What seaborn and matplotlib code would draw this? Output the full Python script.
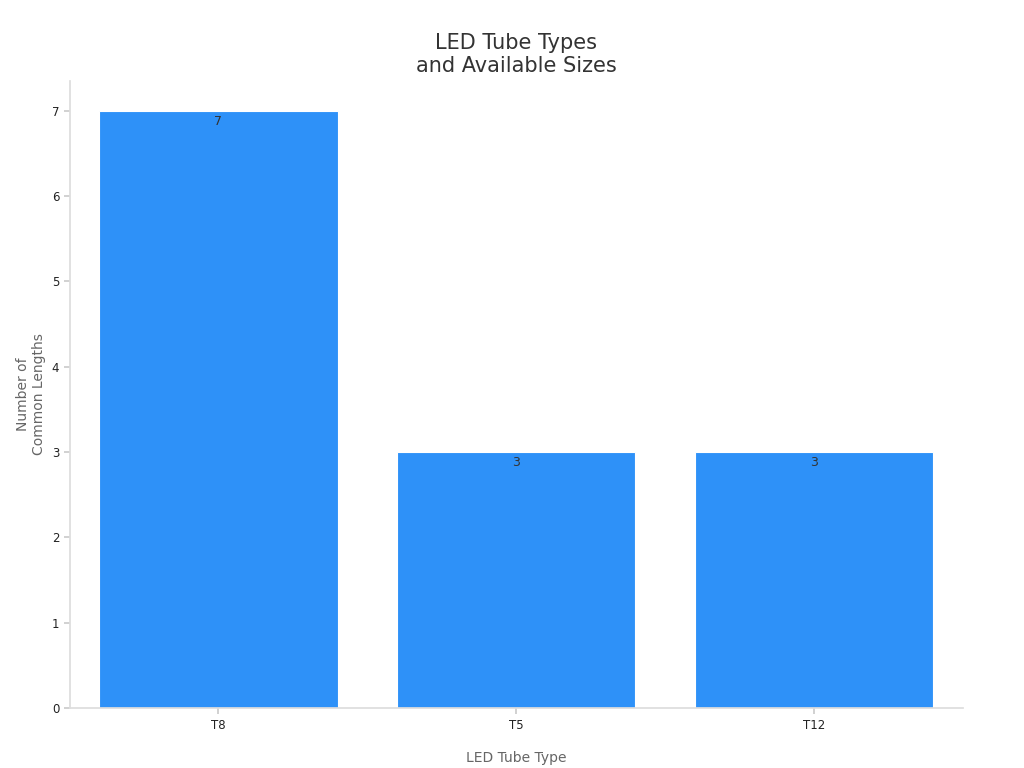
import matplotlib
matplotlib.use("Agg")
import matplotlib.pyplot as plt
import seaborn as sns
import pandas as pd

tube_types = ["T8", "T5", "T12"]
common_lengths = [7, 3, 3]

sns.set_theme(style="white")
plt.rcParams["font.family"] = ["DejaVu Sans"]

df = pd.DataFrame({"type": tube_types, "count": common_lengths})

fig, ax = plt.subplots(figsize=(10.24, 7.68), dpi=100)
sns.barplot(data=df, x="type", y="count", color="#2e91f8", saturation=1,
            width=0.8, ax=ax, edgecolor="white", linewidth=0.8)

for i, v in enumerate(common_lengths):
    ax.text(i, v - 0.05, str(v), ha="center", va="top", fontsize=9, color="#333333")

ax.set_title("LED Tube Types\nand Available Sizes", fontsize=15, color="#333333")
ax.set_xlabel("LED Tube Type", fontsize=10, color="#666666", labelpad=14)
ax.set_ylabel("Number of\nCommon Lengths", fontsize=10, color="#666666")
ax.set_ylim(0, 7.35)
ax.set_xlim(-0.5, 2.5)
ax.tick_params(axis="both", labelsize=8.5, colors="#222222", length=4, color="#cccccc")
ax.tick_params(left=True, bottom=True)
sns.despine(ax=ax)
for s in ["left", "bottom"]:
    ax.spines[s].set_color("#dddddd")

fig.subplots_adjust(left=0.068, right=0.94, top=0.895, bottom=0.078)
fig.savefig("out.png", dpi=100)
